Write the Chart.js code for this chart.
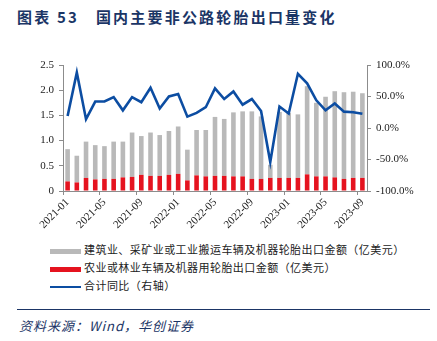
<!DOCTYPE html>
<html>
<head>
<meta charset="utf-8">
<script src="https://cdn.jsdelivr.net/npm/chart.js@4/dist/chart.umd.min.js"></script>
<style>
  body { margin: 0; background: #fff; }
  #wrap { position: relative; width: 437px; height: 341px; overflow: hidden; }
  #title { position: absolute; left: 17px; top: 6px; font-family: "Noto Sans CJK SC"; font-weight: bold; font-size: 15px; color: #1b3566; letter-spacing: 2.2px; white-space: nowrap; }
  #mycanvas { position: absolute; left: 0; top: 50px; }
  .leg { position: absolute; left: 50px; font-family: "Noto Sans CJK SC"; font-size: 11px; color: #222; white-space: nowrap; letter-spacing: 0.45px; }
  .leg span.sw { display: inline-block; width: 31px; vertical-align: middle; margin-right: 3px; }
  #rule { position: absolute; left: 17px; top: 309px; width: 413px; height: 0; border-top: 1.5px solid #1b3566; }
  #src { position: absolute; left: 19px; top: 316px; font-family: "Noto Sans CJK SC"; font-style: italic; font-size: 13px; color: #1b3566; white-space: nowrap; letter-spacing: 1px; }
</style>
</head>
<body>
<div id="wrap">
  <div id="title">图表 53&nbsp;&nbsp;&nbsp;国内主要非公路轮胎出口量变化</div>
  <canvas id="mycanvas" width="437" height="186"></canvas>
  <div class="leg" style="top:241px"><span class="sw" style="height:5px;background:#b9b9b9"></span>建筑业、采矿业或工业搬运车辆及机器轮胎出口金额（亿美元）</div>
  <div class="leg" style="top:259px"><span class="sw" style="height:5px;background:#e5131f"></span>农业或林业车辆及机器用轮胎出口金额（亿美元）</div>
  <div class="leg" style="top:277px"><span class="sw" style="height:2.5px;background:#0c4da2"></span>合计同比（右轴）</div>
  <div id="rule"></div>
  <div id="src">资料来源：Wind，华创证券</div>
</div>
<script>
var months = ["2021-01","2021-02","2021-03","2021-04","2021-05","2021-06","2021-07","2021-08","2021-09","2021-10","2021-11","2021-12",
              "2022-01","2022-02","2022-03","2022-04","2022-05","2022-06","2022-07","2022-08","2022-09","2022-10","2022-11","2022-12",
              "2023-01","2023-02","2023-03","2023-04","2023-05","2023-06","2023-07","2023-08","2023-09"];

// 农业或林业车辆及机器用轮胎出口金额（亿美元）
var agri = [0.19,0.17,0.26,0.23,0.24,0.24,0.27,0.28,0.32,0.30,0.30,0.32,
            0.34,0.21,0.31,0.29,0.30,0.30,0.29,0.29,0.24,0.24,0.26,0.26,
            0.26,0.26,0.33,0.29,0.29,0.27,0.24,0.26,0.26];

// 建筑业、采矿业或工业搬运车辆及机器轮胎出口金额（亿美元）
var build = [0.64,0.53,0.72,0.68,0.65,0.74,0.71,0.88,0.77,0.86,0.81,0.87,
             0.94,0.61,0.90,0.92,1.17,1.13,1.27,1.29,1.34,1.24,0.26,1.31,
             1.29,1.26,1.75,1.46,1.58,1.71,1.72,1.71,1.68];

// 合计同比（%）
var yoy = [19,88,14,42,42,49,28,49,41,64,31,50,
           54,18,24,33,63,46,58,37,46,27,-54,34,
           23,86,71,44,28,39,26,25,22.5];

var leftTicks = [0, 0.5, 1, 1.5, 2, 2.5];
var rightTicks = [-100, -50, 0, 50, 100];

var axisColor = "#8c8c8c";
var tickFont = { family: "Liberation Serif", size: 11 };

var ctx = document.getElementById("mycanvas");

var chartdata = {
  labels: months,
  datasets: [
    {
      type: "line",
      label: "合计同比（右轴）",
      data: yoy,
      yAxisID: "y1",
      borderColor: "#0c4da2",
      borderWidth: 2.6,
      pointRadius: 0,
      tension: 0,
      order: 0
    },
    {
      type: "bar",
      label: "农业或林业车辆及机器用轮胎出口金额（亿美元）",
      data: agri,
      yAxisID: "y",
      backgroundColor: "#e5131f",
      barPercentage: 0.5,
      categoryPercentage: 1,
      order: 1
    },
    {
      type: "bar",
      label: "建筑业、采矿业或工业搬运车辆及机器轮胎出口金额（亿美元）",
      data: build,
      yAxisID: "y",
      backgroundColor: "#b9b9b9",
      barPercentage: 0.5,
      categoryPercentage: 1,
      order: 2
    }
  ]
};

var new_chart = new Chart(ctx, {
  type: "bar",
  data: chartdata,
  options: {
    responsive: false,
    animation: false,
    layout: { padding: { top: 15, left: 0, right: 0, bottom: 0 } },
    plugins: { legend: { display: false }, tooltip: { enabled: false } },
    scales: {
      x: {
        stacked: true,
        offset: true,
        border: { display: true, color: axisColor, width: 1 },
        grid: {
          offset: true,
          drawOnChartArea: false,
          drawTicks: true,
          tickLength: 4,
          tickColor: function (c) { return c.index % 4 === 0 ? axisColor : "rgba(0,0,0,0)"; }
        },
        ticks: {
          autoSkip: false,
          minRotation: 45,
          maxRotation: 45,
          padding: 1,
          color: "#222",
          font: tickFont,
          callback: function (v, i) { return i % 4 === 0 ? months[i] : ""; }
        },
        afterFit: function (s) { s.height = 45; }
      },
      y: {
        stacked: true,
        position: "left",
        min: 0,
        max: 2.5,
        afterBuildTicks: function (s) { s.ticks = leftTicks.map(function (v) { return { value: v }; }); },
        border: { display: true, color: axisColor, width: 1 },
        grid: { drawOnChartArea: false, drawTicks: true, tickLength: 4, tickColor: axisColor },
        ticks: { padding: 5, color: "#222", font: tickFont },
        afterFit: function (s) { s.width = 63; }
      },
      y1: {
        position: "right",
        min: -100,
        max: 100,
        afterBuildTicks: function (s) { s.ticks = rightTicks.map(function (v) { return { value: v }; }); },
        border: { display: true, color: axisColor, width: 1 },
        grid: { drawOnChartArea: false, drawTicks: true, tickLength: 4, tickColor: axisColor },
        ticks: {
          padding: 5,
          color: "#222",
          font: tickFont,
          callback: function (v) { return v.toFixed(1) + "%"; }
        },
        afterFit: function (s) { s.width = 70; }
      }
    }
  }
});
</script>
</body>
</html>
